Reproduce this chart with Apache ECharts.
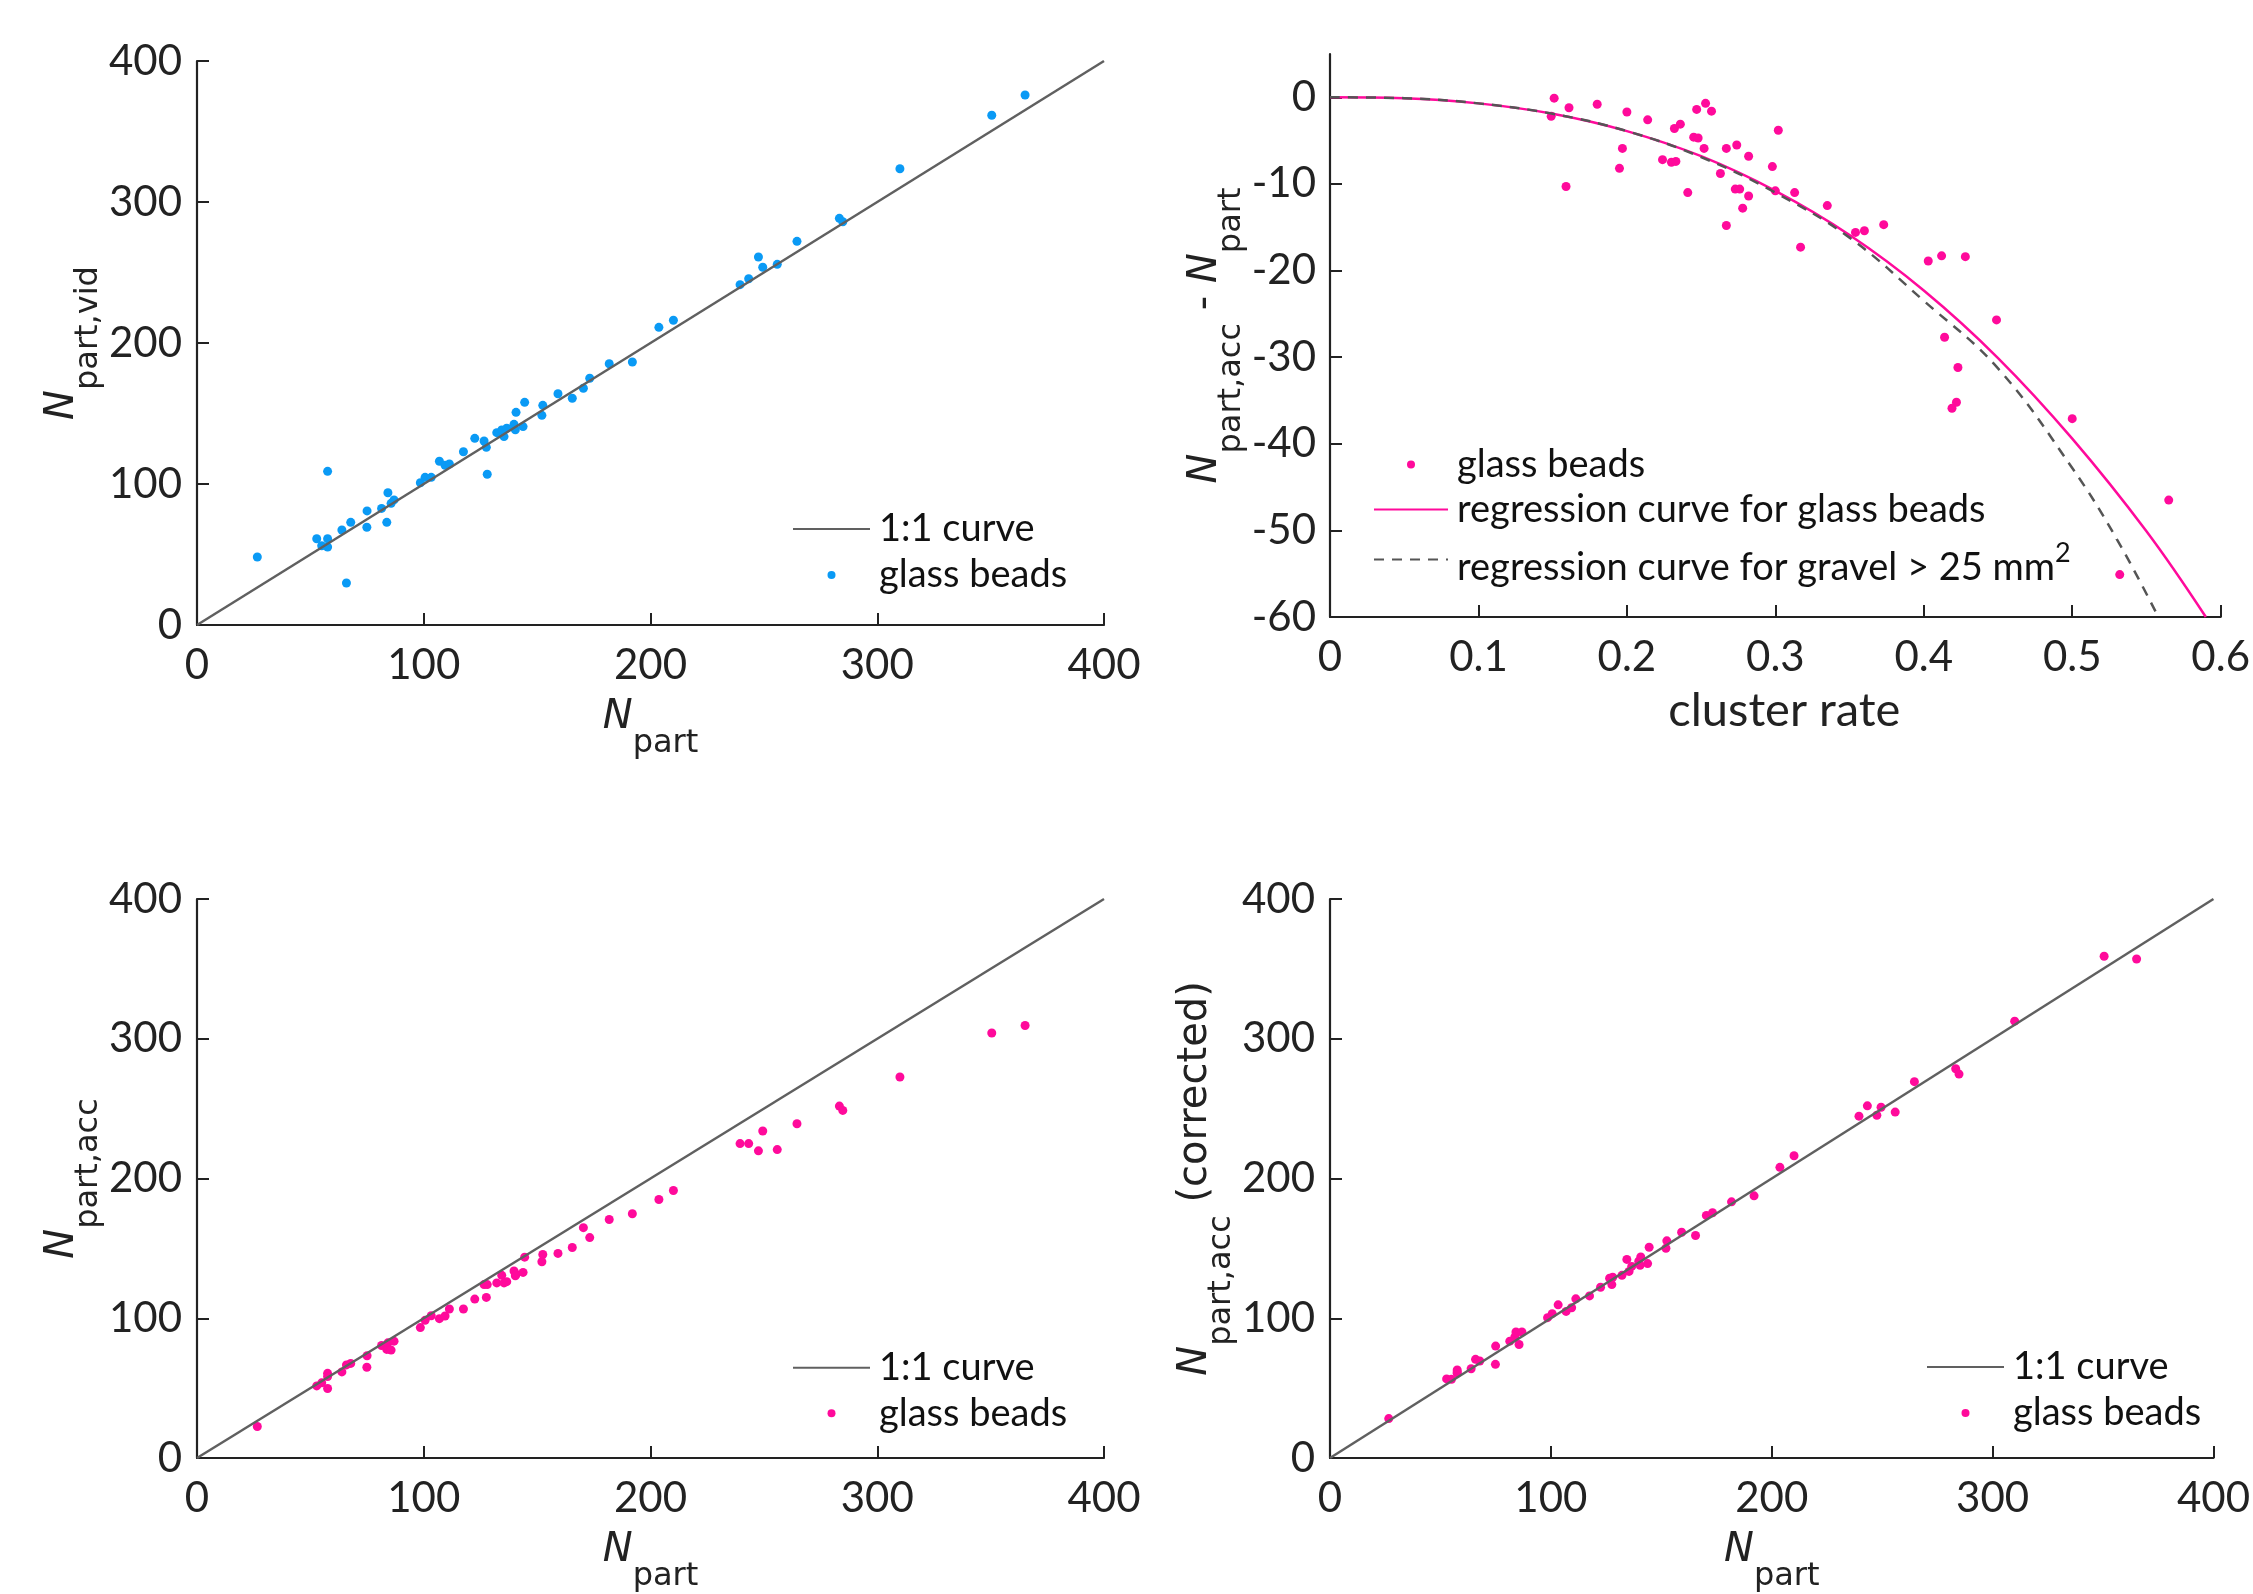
<!DOCTYPE html>
<html><head><meta charset="utf-8">
<script src="https://cdn.jsdelivr.net/npm/echarts@6/dist/echarts.min.js"></script>
<style>html,body{margin:0;padding:0;background:#fff}#c{width:2253px;height:1594px}</style>
</head><body><div id="c"></div>
<script>
// ---------------- data ----------------
const nPart = [26.6, 52.8, 55.0, 57.6, 57.6, 57.6, 63.9, 65.9, 67.8, 74.9, 75.0, 81.4, 83.7, 84.2, 85.6, 86.9, 98.5, 100.6, 103.3, 106.9, 109.4, 111.3, 117.5, 122.5, 126.6, 127.6, 128.0, 132.2, 134.4, 135.4, 136.6, 139.8, 140.4, 140.7, 143.8, 144.5, 152.1, 152.5, 159.2, 165.5, 170.4, 173.2, 181.8, 192.0, 203.7, 210.1, 239.5, 243.3, 247.6, 249.5, 255.9, 264.6, 283.3, 284.8, 310.0, 350.5, 365.2];
const nPartVid = [48.2, 61.2, 56.2, 61.2, 55.3, 109.0, 67.4, 29.8, 72.8, 69.3, 80.9, 82.7, 72.8, 93.8, 86.3, 88.7, 100.9, 104.7, 104.7, 116.1, 113.3, 114.2, 122.9, 132.4, 130.5, 126.0, 106.9, 136.4, 138.3, 133.6, 139.5, 142.3, 138.5, 150.8, 140.7, 157.9, 148.7, 155.8, 164.0, 160.8, 167.9, 175.0, 185.3, 186.5, 211.1, 216.1, 241.4, 245.6, 261.0, 253.7, 255.8, 272.1, 288.4, 286.0, 323.6, 361.5, 375.9];
const nPartAcc = [22.5, 51.6, 53.8, 60.6, 58.3, 49.7, 61.6, 66.6, 67.7, 64.9, 73.2, 80.5, 77.7, 82.4, 77.2, 83.6, 93.3, 98.5, 101.8, 99.7, 101.6, 106.6, 106.6, 113.7, 124.1, 114.9, 124.1, 125.3, 130.7, 125.3, 126.2, 133.8, 130.4, 131.5, 132.8, 143.7, 140.4, 145.6, 146.4, 150.6, 164.8, 157.7, 170.7, 174.8, 185.0, 191.4, 225.0, 225.0, 219.8, 234.0, 220.7, 239.2, 251.8, 248.7, 272.6, 304.1, 309.5];
const nPartAccCorrected = [28.2, 56.6, 56.3, 63.0, 60.7, 61.5, 63.9, 70.6, 69.4, 67.0, 80.1, 83.6, 86.7, 90.2, 81.2, 90.2, 100.4, 103.3, 109.6, 104.9, 107.5, 113.9, 116.0, 122.2, 128.6, 124.1, 129.3, 130.7, 142.1, 133.5, 137.1, 140.8, 137.9, 143.8, 139.1, 150.8, 150.1, 155.4, 161.5, 159.2, 173.6, 175.5, 183.3, 187.6, 208.0, 216.3, 244.6, 252.0, 245.3, 251.0, 247.5, 269.3, 278.5, 274.7, 312.6, 359.0, 357.1];

const clusterRate = [0.151, 0.149, 0.161, 0.159, 0.180, 0.200, 0.197, 0.195, 0.214, 0.224, 0.230, 0.233, 0.232, 0.236, 0.241, 0.247, 0.253, 0.257, 0.245, 0.248, 0.252, 0.263, 0.267, 0.274, 0.282, 0.273, 0.276, 0.282, 0.278, 0.267, 0.298, 0.302, 0.300, 0.313, 0.317, 0.335, 0.354, 0.360, 0.373, 0.403, 0.412, 0.428, 0.449, 0.414, 0.423, 0.422, 0.419, 0.500, 0.565, 0.532];
const accDiff = [-0.1, -2.2, -1.2, -10.3, -0.8, -1.7, -5.9, -8.2, -2.6, -7.2, -7.5, -7.4, -3.6, -3.1, -11.0, -1.4, -0.7, -1.6, -4.6, -4.7, -5.9, -8.8, -5.9, -5.5, -6.8, -10.6, -10.6, -11.4, -12.8, -14.8, -8.0, -3.8, -10.8, -11.0, -17.3, -12.5, -15.6, -15.4, -14.7, -18.9, -18.3, -18.4, -25.7, -27.7, -31.2, -35.2, -35.9, -37.1, -46.5, -55.1];

const glassCurveX = [0, 0.05, 0.1, 0.15, 0.2, 0.25, 0.3, 0.35, 0.4, 0.45, 0.5, 0.55, 0.59];
const glassCurveY = [0, -0.1, -0.7, -1.9, -3.9, -6.8, -10.8, -15.9, -22.3, -30.1, -39.4, -50.1, -60.0];
const gravelCurveX = [0, 0.05, 0.1, 0.15, 0.2, 0.25, 0.3, 0.35, 0.4, 0.45, 0.5, 0.53, 0.558];
const gravelCurveY = [0, -0.1, -0.7, -1.9, -3.9, -6.9, -11.0, -16.2, -23.5, -31.3, -42.8, -51.0, -60.0];

const oneToOneX = [0, 400];
const oneToOneY = [0, 400];

const diffTicks = [-60, -50, -40, -30, -20, -10, 0];

// ---------------- styles ----------------
const BLUE = '#0a9af5';
const MAGENTA = '#ff0a9b';
const GREY = '#606060';
const AX = '#222222';
const FONT = 'Lato, "Open Sans", sans-serif';
const MATH = '"DejaVu Sans", sans-serif';
const GRAVEL = 'regression curve for gravel > 25 mm\u00b2';

const pairs = (xs, ys) => xs.map((x, i) => [x, ys[i]]);

const nameRich = {
  n: {fontFamily: MATH, fontStyle: 'italic', fontSize: 40, color: AX, verticalAlign: 'top'},
  s: {fontFamily: MATH, fontSize: 32, color: AX, verticalAlign: 'top', padding: [30, 0, 0, 0]},
  t: {fontFamily: MATH, fontSize: 40, color: AX, verticalAlign: 'top'}
};

const TICK_LABEL = {color: AX, fontFamily: FONT, fontSize: 42, margin: 15};
const TICK = {show: true, inside: true, length: 12, lineStyle: {color: AX, width: 2}};

function axis(opts) {
  return Object.assign({
    type: 'value',
    axisLine: {show: true, onZero: false, lineStyle: {color: AX, width: 2.2}},
    axisTick: TICK,
    splitLine: {show: false},
    axisLabel: TICK_LABEL,
    nameLocation: 'middle',
    nameTextStyle: {rich: nameRich}
  }, opts);
}

const HIDE_SYMBOL = {color: 'rgba(0,0,0,0)', borderWidth: 0, opacity: 0};
const legendText = {fontFamily: FONT, fontSize: 38, color: '#111', lineHeight: 46, padding: [0, 0, 0, 4]};

const option = {
  backgroundColor: '#ffffff',
  animation: false,
  grid: [
    {left: 197, top: 61, width: 907, height: 564},
    {left: 1330, top: 54, width: 908, height: 563},
    {left: 197, top: 899, width: 907, height: 563},
    {left: 1330, top: 899, width: 908, height: 563}
  ],
  xAxis: [
    axis({gridIndex: 0, min: 0, max: 400, interval: 100, name: '{n|N}{s|part}', nameGap: 73,
      axisLabel: Object.assign({}, TICK_LABEL, {margin: 19})}),
    axis({gridIndex: 1, min: 0, max: 0.6, interval: 0.1, name: 'cluster rate', nameGap: 70,
      axisLabel: Object.assign({}, TICK_LABEL, {margin: 19}),
      nameTextStyle: {fontFamily: FONT, fontSize: 47, color: AX, padding: [0, 0, 0, 18]}}),
    axis({gridIndex: 2, min: 0, max: 400, interval: 100, name: '{n|N}{s|part}', nameGap: 73,
      axisLabel: Object.assign({}, TICK_LABEL, {margin: 19})}),
    axis({gridIndex: 3, min: 0, max: 400, interval: 100, name: '{n|N}{s|part}', nameGap: 73,
      axisLabel: Object.assign({}, TICK_LABEL, {margin: 19})})
  ],
  yAxis: [
    axis({gridIndex: 0, min: 0, max: 400, interval: 100, name: '{n|N}{s|part,vid}', nameRotate: 90, nameGap: 78}),
    axis({gridIndex: 1, min: -60, max: 5,
      axisLabel: Object.assign({}, TICK_LABEL, {margin: 14, customValues: diffTicks}),
      axisTick: Object.assign({}, TICK, {customValues: diffTicks}),
      name: '{n|N}{s|part,acc}{t| - }{n|N}{s|part}', nameRotate: 90, nameGap: 76}),
    axis({gridIndex: 2, min: 0, max: 400, interval: 100, name: '{n|N}{s|part,acc}', nameRotate: 90, nameGap: 81}),
    axis({gridIndex: 3, min: 0, max: 400, interval: 100, name: '{n|N}{s|part,acc}{t| (corrected)}', nameRotate: 90, nameGap: 81})
  ],
  legend: [
    {orient: 'vertical', left: 792, top: 506, itemWidth: 77, itemHeight: 8, itemGap: 0, padding: 0,
      selectedMode: false, textStyle: legendText,
      data: [{name: '1:1 curve', itemStyle: HIDE_SYMBOL},
             {name: 'glass beads', icon: 'circle', itemStyle: {color: BLUE}}]},
    {orient: 'vertical', left: 1373, top: 442, itemWidth: 74, itemHeight: 8, itemGap: 0, padding: 0,
      selectedMode: false,
      textStyle: Object.assign({}, legendText, {lineHeight: 45, rich: {
        m: {fontFamily: FONT, fontSize: 38, color: '#111', lineHeight: 45, verticalAlign: 'bottom'},
        sup: {fontFamily: FONT, fontSize: 27, color: '#111', lineHeight: 55, verticalAlign: 'top', padding: [8, 0, 0, 0]}
      }}),
      formatter: n => n === GRAVEL ? '{m|regression curve for gravel > 25 mm}{sup|2}' : n,
      data: [{name: 'glass beads', icon: 'circle', itemStyle: {color: MAGENTA}},
             {name: 'regression curve for glass beads', itemStyle: HIDE_SYMBOL},
             {name: GRAVEL, itemStyle: HIDE_SYMBOL}]},
    {orient: 'vertical', left: 792, top: 1345, itemWidth: 77, itemHeight: 8, itemGap: 0, padding: 0,
      selectedMode: false, textStyle: Object.assign({}, legendText, {lineHeight: 45.5}),
      data: [{name: '1:1 curve', itemStyle: HIDE_SYMBOL},
             {name: 'glass beads', icon: 'circle', itemStyle: {color: MAGENTA}}]},
    {orient: 'vertical', left: 1926, top: 1344, itemWidth: 77, itemHeight: 8, itemGap: 0, padding: 0,
      selectedMode: false, textStyle: Object.assign({}, legendText, {lineHeight: 46}),
      data: [{name: '1:1 curve', itemStyle: HIDE_SYMBOL},
             {name: 'glass beads', icon: 'circle', itemStyle: {color: MAGENTA}}]}
  ],
  series: [
    {type: 'line', name: '1:1 curve', xAxisIndex: 0, yAxisIndex: 0, data: pairs(oneToOneX, oneToOneY),
      symbol: 'none', lineStyle: {color: GREY, width: 2.5}, itemStyle: {color: GREY}},
    {type: 'scatter', name: 'glass beads', xAxisIndex: 0, yAxisIndex: 0, data: pairs(nPart, nPartVid),
      symbolSize: 9, itemStyle: {color: BLUE, opacity: 1}},

    {type: 'scatter', name: 'glass beads', xAxisIndex: 1, yAxisIndex: 1, data: pairs(clusterRate, accDiff),
      symbolSize: 9, itemStyle: {color: MAGENTA, opacity: 1}},
    {type: 'line', name: 'regression curve for glass beads', xAxisIndex: 1, yAxisIndex: 1,
      data: pairs(glassCurveX, glassCurveY), smooth: 0.4, symbol: 'none',
      lineStyle: {color: MAGENTA, width: 2.5}, itemStyle: {color: MAGENTA}},
    {type: 'line', name: GRAVEL, xAxisIndex: 1, yAxisIndex: 1,
      data: pairs(gravelCurveX, gravelCurveY), smooth: 0.4, symbol: 'none',
      lineStyle: {color: '#555555', width: 2.5, type: [10, 8]}, itemStyle: {color: '#555555'}},

    {type: 'line', name: '1:1 curve', xAxisIndex: 2, yAxisIndex: 2, data: pairs(oneToOneX, oneToOneY),
      symbol: 'none', lineStyle: {color: GREY, width: 2.5}, itemStyle: {color: GREY}},
    {type: 'scatter', name: 'glass beads', xAxisIndex: 2, yAxisIndex: 2, data: pairs(nPart, nPartAcc),
      symbolSize: 9, itemStyle: {color: MAGENTA, opacity: 1}},

    {type: 'line', name: '1:1 curve', xAxisIndex: 3, yAxisIndex: 3, data: pairs(oneToOneX, oneToOneY),
      symbol: 'none', lineStyle: {color: GREY, width: 2.5}, itemStyle: {color: GREY}},
    {type: 'scatter', name: 'glass beads', xAxisIndex: 3, yAxisIndex: 3, data: pairs(nPart, nPartAccCorrected),
      symbolSize: 9, itemStyle: {color: MAGENTA, opacity: 1}}
  ]
};

const chart = echarts.init(document.getElementById('c'), null, {renderer: 'canvas'});
chart.setOption(option);
</script>
</body></html>
